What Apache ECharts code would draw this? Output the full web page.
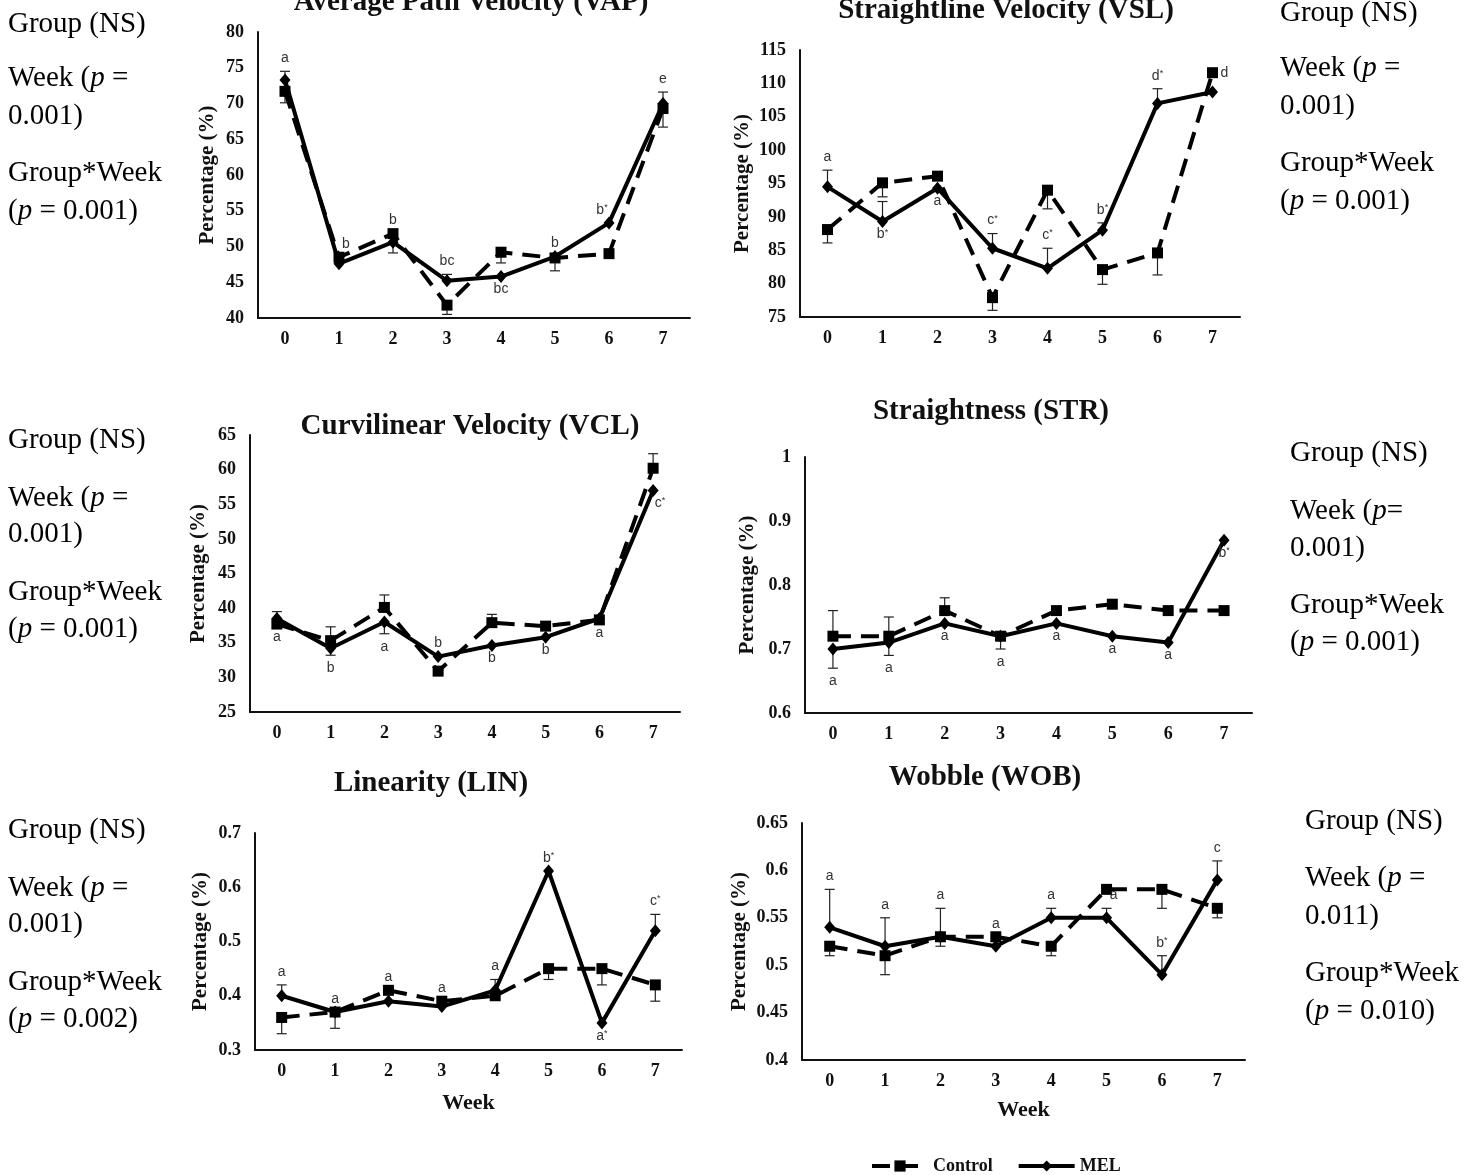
<!DOCTYPE html>
<html>
<head>
<meta charset="utf-8">
<title>Sperm motility by week: Control vs MEL</title>
<script src="https://cdn.jsdelivr.net/npm/echarts@6/dist/echarts.min.js"></script>
<style>
  html, body { margin: 0; padding: 0; background: #fff; }
  #chart { width: 1478px; height: 1175px; }
</style>
</head>
<body>
<div id="chart"></div>
<script>
// ---- data -------------------------------------------------------------
const weeks = ['0', '1', '2', '3', '4', '5', '6', '7'];

// Average Path Velocity (VAP)
const vapRange = [40, 80, 5];
const vapControl = [71.7, 48.5, 51.8, 41.8, 49.2, 48.4, 49.0, 69.3];
const vapMel = [73.3, 47.6, 50.6, 45.2, 45.8, 48.6, 53.3, 70.0];
const vapControlErr = [-1.6, null, null, -1.3, -1.5, -1.8, null, -2.6];
const vapMelErr = [1.2, null, -1.5, 0.9, null, null, null, 1.6];
const vapTags = ['a', 'b', 'b', 'bc', 'bc', 'b', 'b*', 'e'];
const vapNotes = ['Group (NS)', 'Week (p =', '0.001)', 'Group*Week', '(p = 0.001)'];

// Straightline Velocity (VSL)
const vslRange = [75, 115, 5];
const vslControl = [88.1, 95.1, 96.1, 77.9, 94.0, 82.1, 84.6, 111.6];
const vslMel = [94.5, 89.3, 94.3, 85.3, 82.3, 88.0, 107.0, 108.7];
const vslControlErr = [-2.0, -2.1, null, -1.9, -2.8, -2.2, -3.3, null];
const vslMelErr = [2.5, 3.0, null, 2.2, 3.0, 1.1, 2.2, null];
const vslTags = ['a', 'b*', 'a', 'c*', 'c*', 'b*', 'd*', 'd'];
const vslNotes = ['Group (NS)', 'Week (p =', '0.001)', 'Group*Week', '(p = 0.001)'];

// Curvilinear Velocity (VCL)
const vclRange = [25, 65, 5];
const vclControl = [37.7, 35.3, 40.1, 30.9, 37.9, 37.4, 38.3, 60.2];
const vclMel = [38.5, 34.2, 38.0, 33.0, 34.6, 35.8, 38.5, 57.0];
const vclControlErr = [1.8, 2.0, 1.8, null, 1.2, null, null, 2.1];
const vclMelErr = [null, -1.0, -1.7, null, null, null, null, null];
const vclTags = ['a', 'b', 'a', 'b', 'b', 'b', 'a', 'c*'];
const vclNotes = ['Group (NS)', 'Week (p =', '0.001)', 'Group*Week', '(p = 0.001)'];

// Straightness (STR)
const strRange = [0.6, 1, 0.1];
const strControl = [0.72, 0.72, 0.76, 0.72, 0.76, 0.77, 0.76, 0.76];
const strMel = [0.70, 0.71, 0.74, 0.72, 0.74, 0.72, 0.71, 0.87];
const strControlErr = [0.04, 0.03, 0.02, null, null, null, null, null];
const strMelErr = [-0.03, -0.02, null, -0.02, null, null, null, null];
const strTags = ['a', 'a', 'a', 'a', 'a', 'a', 'a', 'b*'];
const strNotes = ['Group (NS)', 'Week (p=', '0.001)', 'Group*Week', '(p = 0.001)'];

// Linearity (LIN)
const linRange = [0.3, 0.7, 0.1];
const linControl = [0.36, 0.37, 0.41, 0.39, 0.40, 0.45, 0.45, 0.42];
const linMel = [0.40, 0.37, 0.39, 0.38, 0.41, 0.63, 0.35, 0.52];
const linControlErr = [-0.03, -0.03, null, null, null, -0.02, -0.03, -0.03];
const linMelErr = [0.02, null, null, null, 0.02, null, null, 0.03];
const linTags = ['a', 'a', 'a', 'a', 'a', 'b*', 'a*', 'c*'];
const linNotes = ['Group (NS)', 'Week (p =', '0.001)', 'Group*Week', '(p = 0.002)'];

// Wobble (WOB)
const wobRange = [0.4, 0.65, 0.05];
const wobControl = [0.52, 0.51, 0.53, 0.53, 0.52, 0.58, 0.58, 0.56];
const wobMel = [0.54, 0.52, 0.53, 0.52, 0.55, 0.55, 0.49, 0.59];
const wobControlErr = [-0.01, -0.02, -0.01, null, -0.01, null, -0.02, -0.01];
const wobMelErr = [0.04, 0.03, 0.03, null, 0.01, 0.01, 0.02, 0.02];
const wobTags = ['a', 'a', 'a', 'a', 'a', 'a', 'b*', 'c'];
const wobNotes = ['Group (NS)', 'Week (p =', '0.011)', 'Group*Week', '(p = 0.010)'];

const panels = [
  { title: 'Average Path Velocity (VAP)', range: vapRange, control: vapControl, mel: vapMel, controlErr: vapControlErr, melErr: vapMelErr, tags: vapTags, notes: vapNotes },
  { title: 'Straightline Velocity (VSL)', range: vslRange, control: vslControl, mel: vslMel, controlErr: vslControlErr, melErr: vslMelErr, tags: vslTags, notes: vslNotes },
  { title: 'Curvilinear Velocity (VCL)', range: vclRange, control: vclControl, mel: vclMel, controlErr: vclControlErr, melErr: vclMelErr, tags: vclTags, notes: vclNotes },
  { title: 'Straightness (STR)', range: strRange, control: strControl, mel: strMel, controlErr: strControlErr, melErr: strMelErr, tags: strTags, notes: strNotes },
  { title: 'Linearity (LIN)', range: linRange, control: linControl, mel: linMel, controlErr: linControlErr, melErr: linMelErr, tags: linTags, notes: linNotes },
  { title: 'Wobble (WOB)', range: wobRange, control: wobControl, mel: wobMel, controlErr: wobControlErr, melErr: wobMelErr, tags: wobTags, notes: wobNotes }
];

// ---- layout -----------------------------------------------------------
// place codes: t/b = above/below MEL, T/B = above/below both groups,
// r/R = right of MEL / Control; trailing l/r nudges sideways.
const layout = [
  { grid: { left: 258, top: 32, width: 432, height: 286 }, yGap: 40, title: [471, 3],
    place: ['t', 'Tr', 'T', 't', 'b', 'T', 'tl', 't'], notesAt: [8, [24, 78, 116, 173, 211]] },
  { grid: { left: 800, top: 50, width: 440, height: 267 }, yGap: 47, title: [1006, 11],
    place: ['t', 'b', 'b', 't', 't', 't', 't', 'R'], notesAt: [1280, [13, 68, 106, 163, 201]] },
  { grid: { left: 250, top: 435, width: 430, height: 277 }, yGap: 41, title: [470, 427],
    place: ['B', 'b', 'b', 't', 'b', 'b', 'B', 'br'], notesAt: [8, [440, 498, 534, 592, 629]] },
  { grid: { left: 805, top: 457, width: 447, height: 256 }, yGap: 47, title: [991, 412],
    place: ['b', 'b', 'b', 'b', 'b', 'b', 'b', 'b'], notesAt: [1290, [453, 511, 548, 605, 642]] },
  { grid: { left: 255, top: 833, width: 427, height: 217 }, yGap: 44, title: [431, 784], xName: 42,
    place: ['t', 't', 'T', 'T', 't', 't', 'b', 't'], notesAt: [8, [830, 888, 924, 982, 1019]] },
  { grid: { left: 802, top: 823, width: 443, height: 237 }, yGap: 52, title: [985, 778], xName: 39,
    place: ['t', 't', 't', 'T', 't', 'tr', 't', 't'], notesAt: [1305, [821, 878, 916, 973, 1011]] }
];

const SERIF = '"Liberation Serif", "Times New Roman", serif';
const SANS = '"Liberation Sans", Arial, sans-serif';
const INK = '#111';

// ---- renderers --------------------------------------------------------
function renderErrorBar(params, api) {
  const x = api.value(0);
  const p0 = api.coord([x, api.value(1)]);
  const p1 = api.coord([x, api.value(2)]);
  const half = 5;
  const style = { stroke: '#222', lineWidth: 1.2 };
  return {
    type: 'group',
    children: [
      { type: 'line', shape: { x1: p0[0], y1: p0[1], x2: p1[0], y2: p1[1] }, style: style },
      { type: 'line', shape: { x1: p1[0] - half, y1: p1[1], x2: p1[0] + half, y2: p1[1] }, style: style }
    ]
  };
}

function makeTagRenderer(tags, place) {
  return function (params, api) {
    const i = params.dataIndex;
    const code = place[i];
    const p = api.coord([api.value(0), api.value(1)]);
    let x = p[0], y = p[1];
    const side = code[0];
    if (side === 't' || side === 'T') y -= 13;
    else if (side === 'b' || side === 'B') y += 13;
    else x += 12;
    if (code[1] === 'l') x -= 7;
    if (code[1] === 'r') x += 7;
    return {
      type: 'text',
      x: x, y: y,
      style: {
        text: tags[i].replace('*', '{s|*}'),
        fill: '#333',
        fontSize: 14,
        fontFamily: SANS,
        align: 'center',
        verticalAlign: 'middle',
        rich: { s: { fontSize: 9, fontFamily: SANS, fill: '#333', verticalAlign: 'top' } }
      }
    };
  };
}

function tagAnchor(p, i, code) {
  const side = code[0];
  const mel = p.mel[i], me = p.melErr[i];
  const ctl = p.control[i], ce = p.controlErr[i];
  if (side === 'r') return mel;
  if (side === 'R') return ctl;
  if (side === 't' || side === 'T') {
    let v = me != null && me > 0 ? mel + me : mel;
    if (side === 'T') v = Math.max(v, ce != null && ce > 0 ? ctl + ce : ctl);
    return v;
  }
  let v = me != null && me < 0 ? mel + me : mel;
  if (side === 'B') v = Math.min(v, ce != null && ce < 0 ? ctl + ce : ctl);
  return v;
}

// ---- option -----------------------------------------------------------
const grids = [], xAxes = [], yAxes = [], series = [], graphics = [];

panels.forEach(function (p, k) {
  const L = layout[k];
  grids.push(Object.assign({ outerBoundsMode: 'none', containLabel: false }, L.grid));

  xAxes.push({
    type: 'category', gridIndex: k, data: weeks, boundaryGap: true,
    axisLine: { lineStyle: { color: INK, width: 2 } },
    axisTick: { show: false },
    axisLabel: { fontFamily: SERIF, fontWeight: 'bold', fontSize: 18, color: INK, margin: 12 },
    name: L.xName ? 'Week' : '', nameLocation: 'middle', nameGap: L.xName || 30,
    nameTextStyle: { fontFamily: SERIF, fontWeight: 'bold', fontSize: 22, color: INK }
  });

  yAxes.push({
    type: 'value', gridIndex: k, min: p.range[0], max: p.range[1], interval: p.range[2],
    axisLine: { show: true, lineStyle: { color: INK, width: 2 } },
    axisTick: { show: false }, splitLine: { show: false },
    axisLabel: { fontFamily: SERIF, fontWeight: 'bold', fontSize: 18, color: INK, margin: 14 },
    name: 'Percentage (%)', nameLocation: 'middle', nameGap: L.yGap,
    nameTextStyle: { fontFamily: SERIF, fontWeight: 'bold', fontSize: 21, color: INK }
  });

  // error bars for both groups
  const bars = [];
  [[p.control, p.controlErr], [p.mel, p.melErr]].forEach(function (pair) {
    pair[0].forEach(function (v, i) {
      if (pair[1][i] != null) bars.push([i, v, v + pair[1][i]]);
    });
  });
  series.push({
    type: 'custom', xAxisIndex: k, yAxisIndex: k, data: bars,
    encode: { x: 0, y: [1, 2] }, renderItem: renderErrorBar, z: 1, silent: true
  });

  series.push({
    type: 'line', name: 'Control', xAxisIndex: k, yAxisIndex: k, data: p.control,
    symbol: 'rect', symbolSize: 11, showAllSymbol: true,
    lineStyle: { color: '#000', width: 4, type: [18, 10] },
    itemStyle: { color: '#000' }, z: 3
  });
  series.push({
    type: 'line', name: 'MEL', xAxisIndex: k, yAxisIndex: k, data: p.mel,
    symbol: 'diamond', symbolSize: [11, 13], showAllSymbol: true,
    lineStyle: { color: '#000', width: 4, type: 'solid' },
    itemStyle: { color: '#000' }, z: 4
  });

  // significance letters
  const anchors = p.tags.map(function (t, i) { return [i, tagAnchor(p, i, L.place[i])]; });
  series.push({
    type: 'custom', xAxisIndex: k, yAxisIndex: k, data: anchors,
    encode: { x: 0, y: 1 }, renderItem: makeTagRenderer(p.tags, L.place), z: 5, silent: true
  });

  // panel title
  graphics.push({
    type: 'text', x: L.title[0], y: L.title[1], silent: true,
    style: { text: p.title, fill: INK, fontSize: 29, fontWeight: 'bold', fontFamily: SERIF,
             align: 'center', verticalAlign: 'middle' }
  });

  // statistics notes beside the panel
  p.notes.forEach(function (line, j) {
    graphics.push({
      type: 'text', x: L.notesAt[0], y: L.notesAt[1][j], silent: true,
      style: {
        text: line.replace(/\bp\b/g, '{i|p}'),
        fill: '#000', fontSize: 29, fontFamily: SERIF,
        align: 'left', verticalAlign: 'middle',
        rich: { i: { fontStyle: 'italic', fontSize: 29, fontFamily: SERIF, fill: '#000' } }
      }
    });
  });
});

const option = {
  backgroundColor: '#fff',
  animation: false,
  grid: grids,
  xAxis: xAxes,
  yAxis: yAxes,
  series: series,
  graphic: graphics,
  legend: {
    data: ['Control', 'MEL'],
    left: 865, top: 1152,
    itemWidth: 56, itemHeight: 14, itemGap: 24,
    lineStyle: { width: 4, type: 'inherit', color: '#000' },
    textStyle: { fontFamily: SERIF, fontWeight: 'bold', fontSize: 18, color: INK }
  }
};

const chart = echarts.init(document.getElementById('chart'), null, { renderer: 'canvas' });
chart.setOption(option);
</script>
</body>
</html>
